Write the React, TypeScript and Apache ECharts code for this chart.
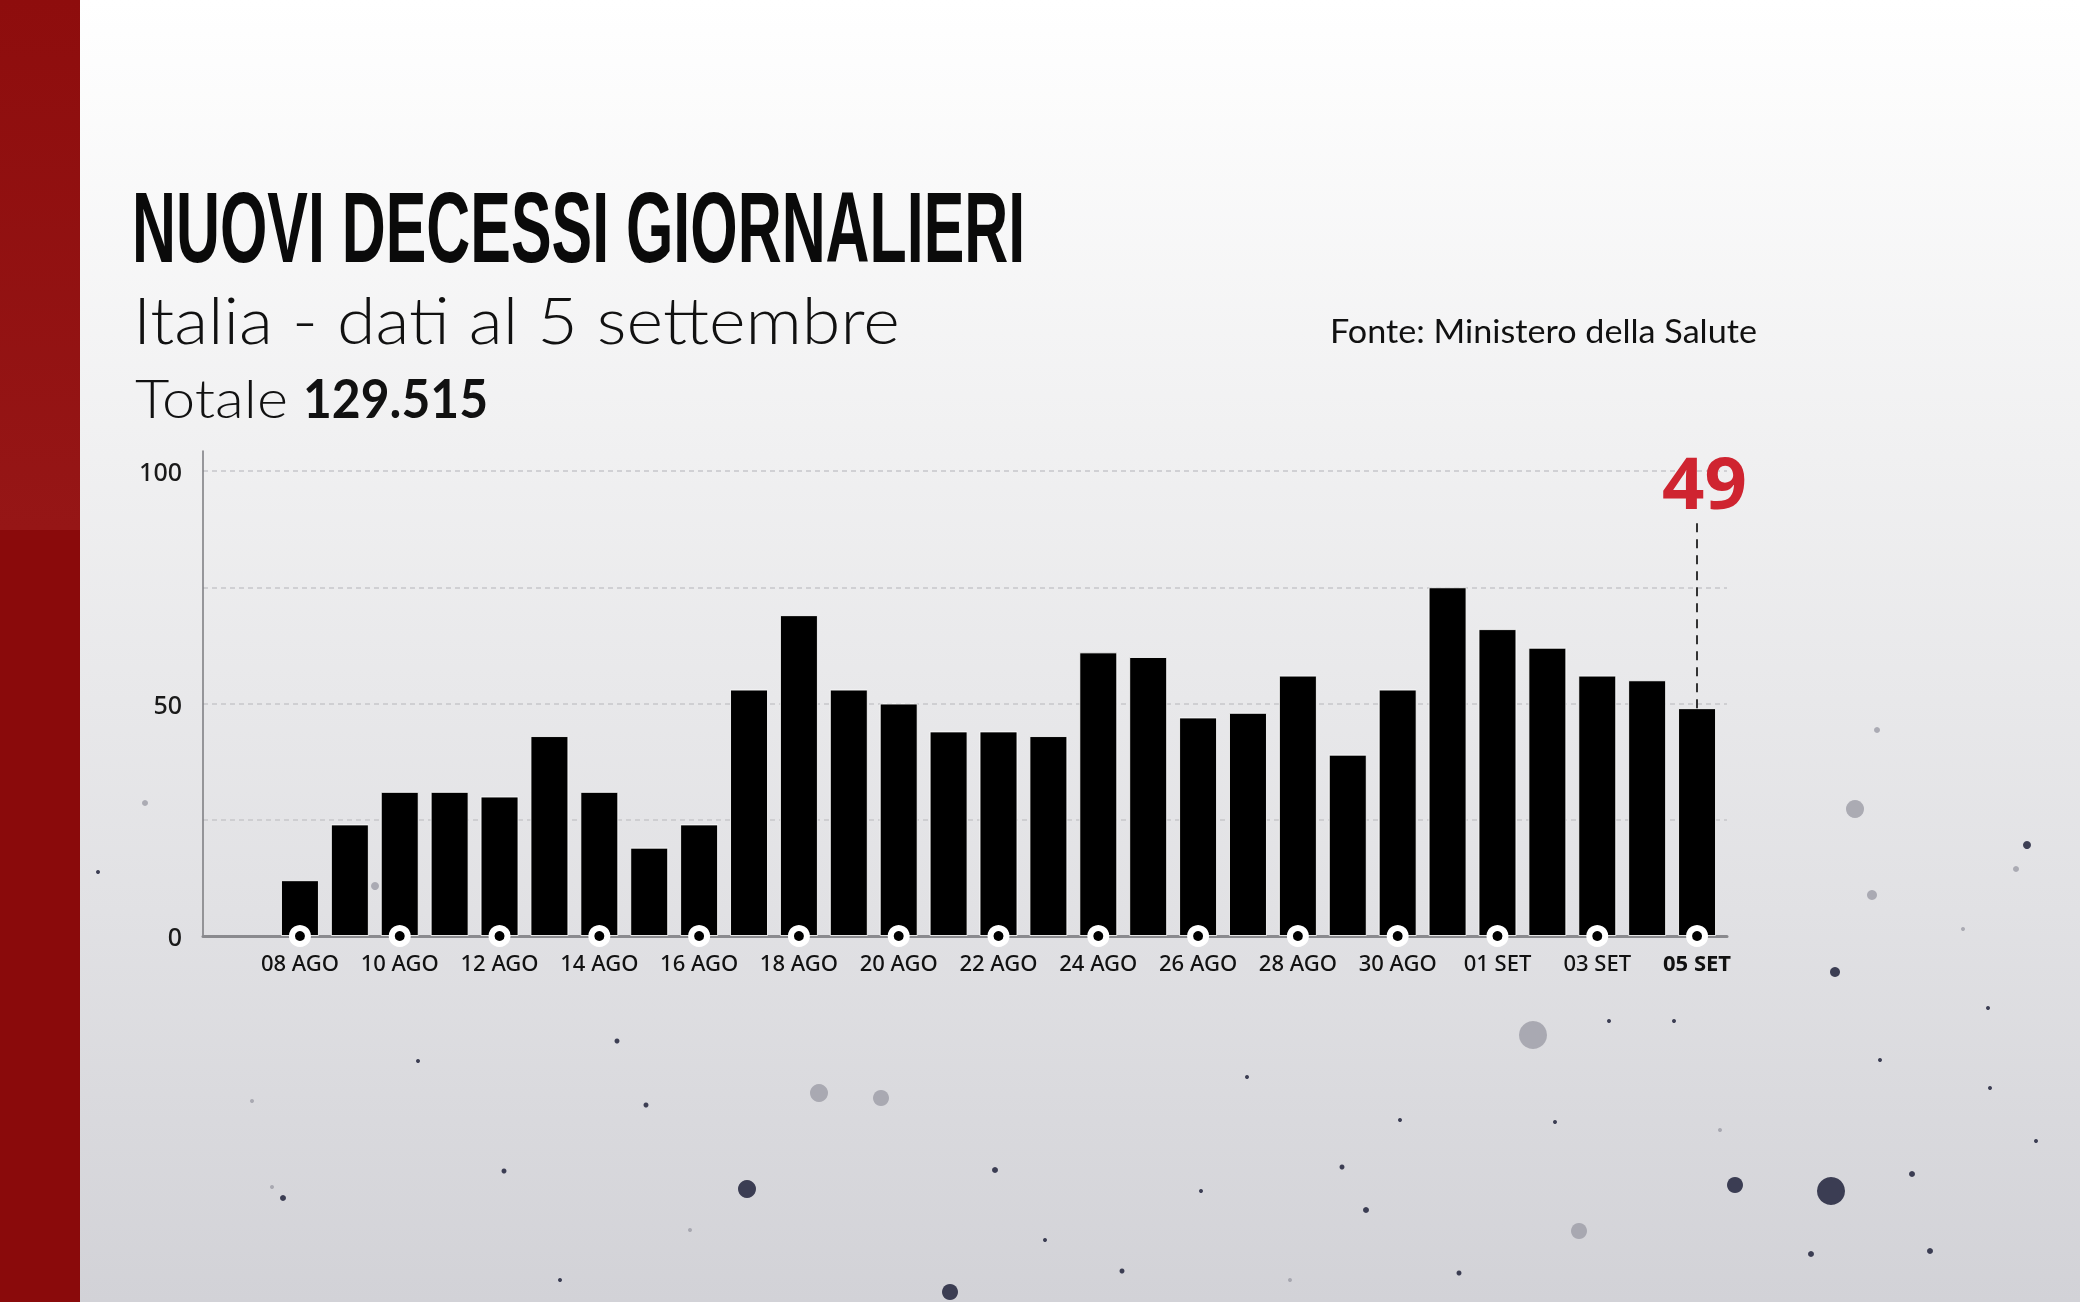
import React, { useEffect, useRef } from "react";
import * as echarts from "echarts";

// ---------- DATA ----------
const DATES = [
  "08 AGO", "09 AGO", "10 AGO", "11 AGO", "12 AGO", "13 AGO", "14 AGO", "15 AGO",
  "16 AGO", "17 AGO", "18 AGO", "19 AGO", "20 AGO", "21 AGO", "22 AGO", "23 AGO",
  "24 AGO", "25 AGO", "26 AGO", "27 AGO", "28 AGO", "29 AGO", "30 AGO", "31 AGO",
  "01 SET", "02 SET", "03 SET", "04 SET", "05 SET",
];
const DEATHS = [
  12, 24, 31, 31, 30, 43, 31, 19,
  24, 53, 69, 53, 50, 44, 44, 43,
  61, 60, 47, 48, 56, 39, 53, 75,
  66, 62, 56, 55, 49,
];
const MARKER_DAYS = [
  "08 AGO", "10 AGO", "12 AGO", "14 AGO", "16 AGO", "18 AGO", "20 AGO", "22 AGO",
  "24 AGO", "26 AGO", "28 AGO", "30 AGO", "01 SET", "03 SET", "05 SET",
];
const Y_TICK_LABELS = [0, 50, 100];
const Y_MAX = 100;
const Y_STEP = 25;

const TITLE = "NUOVI DECESSI GIORNALIERI";
const SUBTITLE = "Italia - dati al 5 settembre";
const TOTAL_LABEL = "Totale";
const TOTAL_VALUE = "129.515";
const SOURCE = "Fonte: Ministero della Salute";

// decorative background speckles: [x, y, r, tone]
const SPECKLES: [number, number, number, number][] = [
  [1831, 1191, 14, 0], [1533, 1035, 14, 1], [1855, 809, 9, 1], [747, 1189, 9, 0],
  [950, 1292, 8, 0], [1735, 1185, 8, 0], [819, 1093, 9, 1], [881, 1098, 8, 1],
  [1579, 1231, 8, 1], [1835, 972, 5, 0], [1872, 895, 5, 1], [2027, 845, 4, 0],
  [2016, 869, 3, 1], [1877, 730, 3, 1], [1912, 1174, 3, 0], [1930, 1251, 3, 0],
  [1990, 1088, 2, 0], [2036, 1141, 2, 0], [1811, 1254, 3, 0], [1366, 1210, 3, 0],
  [1459, 1273, 2.5, 0], [1342, 1167, 2.5, 0], [995, 1170, 3, 0], [283, 1198, 3, 0],
  [375, 886, 4, 1], [145, 803, 3, 1], [98, 872, 2, 0], [646, 1105, 2.5, 0],
  [617, 1041, 2.5, 0], [504, 1171, 2.5, 0], [1122, 1271, 2.5, 0], [1201, 1191, 2, 0],
  [1609, 1021, 2, 0], [1555, 1122, 2, 0], [1400, 1120, 2, 0], [1247, 1077, 2, 0],
  [1674, 1021, 2, 0], [1963, 929, 2, 1], [1988, 1008, 2, 0], [418, 1061, 2, 0],
  [272, 1187, 2, 1], [252, 1101, 2, 1], [1880, 1060, 2, 0], [1720, 1130, 2, 1],
  [1045, 1240, 2, 0], [690, 1230, 2, 1], [560, 1280, 2, 0], [1290, 1280, 2, 1],
];

// ---------- helpers ----------
function textWidth(text: string, font: string): number {
  const ctx = document.createElement("canvas").getContext("2d");
  if (!ctx) return text.length * 10;
  ctx.font = font;
  return ctx.measureText(text).width;
}

function fittedText(
  text: string,
  o: { x: number; cy: number; width: number; size: number; family: string; weight: string | number; color: string }
) {
  const font = `${o.weight} ${o.size}px "${o.family}"`;
  const w = textWidth(text, font);
  const sx = w > 0 ? o.width / w : 1;
  return {
    type: "text",
    x: o.x,
    y: o.cy,
    scaleX: sx,
    z: 20,
    silent: true,
    style: {
      text,
      fill: o.color,
      fontSize: o.size,
      fontFamily: o.family,
      fontWeight: o.weight,
      textAlign: "left",
      textVerticalAlign: "middle",
      align: "left",
      verticalAlign: "middle",
    },
  };
}

export default function App() {
  const ref = useRef<HTMLDivElement>(null);

  useEffect(() => {
    if (!ref.current) return;
    const chart = echarts.init(ref.current, undefined, { renderer: "svg", width: 2080, height: 1302 });

    const lastDate = DATES[DATES.length - 1];
    const lastVal = DEATHS[DEATHS.length - 1];
    const axisFont = "Noto Sans";

    const background: any[] = [
      {
        type: "rect",
        z: -100,
        silent: true,
        shape: { x: 0, y: 0, width: 2080, height: 1302 },
        style: {
          fill: new echarts.graphic.LinearGradient(0, 0, 0, 1, [
            { offset: 0, color: "#ffffff" },
            { offset: 0.35, color: "#f0f0f1" },
            { offset: 0.7, color: "#e1e1e4" },
            { offset: 1, color: "#d2d2d7" },
          ]),
        },
      },
      {
        type: "rect",
        z: -90,
        silent: true,
        shape: { x: 0, y: 0, width: 80, height: 1302 },
        style: { fill: "#8a0a0b" },
      },
      {
        type: "rect",
        z: -89,
        silent: true,
        shape: { x: 0, y: 0, width: 80, height: 530 },
        style: {
          fill: new echarts.graphic.LinearGradient(0, 0, 0, 1, [
            { offset: 0, color: "#8e0d0d" },
            { offset: 1, color: "#961616" },
          ]),
        },
      },
    ];

    const speckles = SPECKLES.map(([x, y, r, tone]) => ({
      type: "circle",
      z: -50,
      silent: true,
      shape: { cx: x, cy: y, r },
      style: { fill: tone === 0 ? "#2a2c44" : "#9c9ca6", opacity: tone === 0 ? 0.9 : 0.8 },
    }));

    const texts: any[] = [
      fittedText(TITLE, { x: 132, cy: 228, width: 894, size: 100, family: "Liberation Sans", weight: "bold", color: "#0a0a0a" }),
      fittedText(SUBTITLE, { x: 133, cy: 318, width: 767, size: 66, family: "Lato", weight: 300, color: "#111111" }),
      fittedText(TOTAL_LABEL, { x: 135, cy: 397, width: 153, size: 54, family: "Lato", weight: 300, color: "#111111" }),
      fittedText(TOTAL_VALUE, { x: 303, cy: 397, width: 185, size: 54, family: "Lato", weight: "bold", color: "#111111" }),
      fittedText(SOURCE, { x: 1330, cy: 330, width: 427, size: 33, family: "Lato", weight: "normal", color: "#111111" }),
    ];

    const option: any = {
      animation: false,
      grid: [
        { left: 203, right: 353, top: 451, bottom: 366 },
        { left: 203, right: 353, top: 471, bottom: 366 },
        { left: 275, right: 358, top: 471, bottom: 366 },
      ],
      xAxis: [
        {
          gridIndex: 0, type: "value", min: 0, max: 1,
          axisLine: { show: true, lineStyle: { color: "#8a8a8e", width: 3 } },
          axisTick: { show: false }, axisLabel: { show: false }, splitLine: { show: false },
        },
        { gridIndex: 1, type: "value", min: 0, max: 1, show: false },
        {
          gridIndex: 2, type: "category", data: DATES,
          axisLine: { show: false }, axisTick: { show: false },
          axisLabel: {
            interval: 1, margin: 15, fontSize: 22, fontFamily: axisFont, fontWeight: 500, color: "#111111",
            formatter: (v: string) => (v === lastDate ? `{b|${v}}` : v),
            rich: { b: { fontSize: 22, fontFamily: axisFont, fontWeight: "bold", color: "#111111" } },
          },
        },
      ],
      yAxis: [
        {
          gridIndex: 0, type: "value", min: 0, max: 1,
          axisLine: { show: true, lineStyle: { color: "#7a7a7e", width: 1.5 } },
          axisTick: { show: false }, axisLabel: { show: false }, splitLine: { show: false },
        },
        {
          gridIndex: 1, type: "value", min: 0, max: Y_MAX, interval: Y_STEP,
          axisLine: { show: false }, axisTick: { show: false },
          axisLabel: {
            margin: 21, fontSize: 25, fontFamily: axisFont, fontWeight: 500, color: "#1a1a1a",
            formatter: (v: number) => (Y_TICK_LABELS.includes(v) ? String(v) : ""),
          },
          splitLine: { show: true, lineStyle: { color: "#c6c6ca", width: 1.5, type: [5, 4] } },
        },
        { gridIndex: 2, type: "value", min: 0, max: Y_MAX, show: false },
      ],
      series: [
        {
          type: "bar",
          xAxisIndex: 2, yAxisIndex: 2,
          data: DEATHS,
          barWidth: 38,
          itemStyle: { color: "#000000", borderColor: "rgba(255,255,255,0.85)", borderWidth: 1 },
          z: 3,
          markLine: {
            silent: true,
            symbol: "none",
            label: { show: false },
            lineStyle: { color: "#333333", width: 2, type: [9, 7] },
            data: [[{ coord: [lastDate, lastVal] }, { coord: [lastDate, 90] }]],
          },
        },
        {
          type: "scatter",
          xAxisIndex: 2, yAxisIndex: 2,
          data: MARKER_DAYS.map((d) => [d, 0]),
          symbol: "circle",
          symbolSize: 16,
          clip: false,
          z: 6,
          itemStyle: { color: "#000000", borderColor: "#ffffff", borderWidth: 6, opacity: 1 },
          silent: true,
        },
      ],
      graphic: { elements: [...background, ...speckles, ...texts] },
    };

    chart.setOption(option);

    const px = chart.convertToPixel({ gridIndex: 2 } as any, [lastDate, lastVal]) as number[];
    if (px && isFinite(px[0])) {
      const lbl = fittedText(String(lastVal), {
        x: px[0] - 35, cy: 481, width: 85, size: 72, family: "Noto Sans", weight: "bold", color: "#cf2430",
      });
      chart.setOption({ graphic: { elements: [...background, ...speckles, ...texts, lbl] } });
    }

    return () => chart.dispose();
  }, []);

  return (
    <div
      ref={ref}
      style={{ position: "fixed", left: 0, top: 0, width: 2080, height: 1302 }}
    />
  );
}
